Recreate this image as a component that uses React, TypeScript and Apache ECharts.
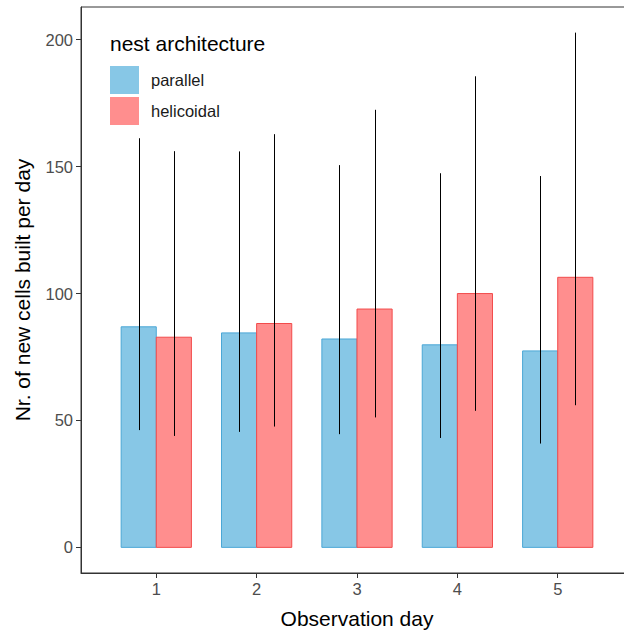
import React, { useEffect, useRef } from "react";
import * as echarts from "echarts";

const days = [1, 2, 3, 4, 5];
const parallelMean = [86.9, 84.5, 82.1, 79.8, 77.4];
const parallelLow = [46.2, 45.5, 44.6, 43.1, 40.9];
const parallelHigh = [161.2, 156.0, 150.6, 147.4, 146.3];
const helicoidalMean = [82.8, 88.2, 93.9, 100.0, 106.4];
const helicoidalLow = [43.9, 47.6, 51.2, 53.8, 56.0];
const helicoidalHigh = [156.1, 162.8, 172.4, 185.6, 202.8];
const yTicks = [0, 50, 100, 150, 200];

const FONT = "Liberation Sans, Arial, Helvetica, sans-serif";
const BAR_W = 0.35;

function makeSeries(name: string, mean: number[], low: number[], high: number[], offset: number, fill: string, stroke: string) {
  return {
    type: "custom",
    name,
    itemStyle: { color: fill },
    data: days.map((d, i) => [d, mean[i], low[i], high[i]]),
    encode: { x: 0, y: [1, 2, 3] },
    renderItem: (params: any, api: any) => {
      const d = api.value(0);
      const m = api.value(1);
      const lo = api.value(2);
      const hi = api.value(3);
      const c = d + offset;
      const p1 = api.coord([c - BAR_W / 2, m]);
      const p2 = api.coord([c + BAR_W / 2, 0]);
      const e1 = api.coord([c, lo]);
      const e2 = api.coord([c, hi]);
      const ex = Math.round(e1[0]) + 0.5;
      return {
        type: "group",
        children: [
          {
            type: "rect",
            shape: { x: p1[0], y: p1[1], width: p2[0] - p1[0], height: p2[1] - p1[1] },
            style: { fill, stroke, lineWidth: 1 },
          },
          {
            type: "line",
            shape: { x1: ex, y1: e1[1], x2: ex, y2: e2[1] },
            style: { stroke: "#000000", lineWidth: 1 },
          },
        ],
      };
    },
  };
}

export default function App() {
  const ref = useRef<HTMLDivElement>(null);
  useEffect(() => {
    if (!ref.current) return;
    const chart = echarts.init(ref.current, undefined, { renderer: "svg" });
    chart.setOption({
      animation: false,
      backgroundColor: "#ffffff",
      textStyle: { fontFamily: FONT },
      grid: {
        left: 81,
        top: 7,
        width: 552,
        height: 566,
        containLabel: false,
        outerBoundsMode: "none",
        show: true,
        borderColor: "#333333",
        borderWidth: 1,
        backgroundColor: "transparent",
      },
      xAxis: {
        type: "value",
        min: 0.25,
        max: 5.75,
        name: "Observation day",
        nameLocation: "middle",
        nameGap: 35,
        nameTextStyle: { fontSize: 21, color: "#000000", fontFamily: FONT },
        axisLine: { show: true, onZero: false, lineStyle: { color: "#333333", width: 1 } },
        axisTick: { show: true, length: 5, customValues: days, lineStyle: { color: "#333333" } },
        axisLabel: { customValues: days, fontSize: 16.5, color: "#4d4d4d", margin: 7, fontFamily: FONT },
        splitLine: { show: false },
      },
      yAxis: {
        type: "value",
        min: -10.1,
        max: 212.9,
        name: "Nr. of new cells built per day",
        nameLocation: "middle",
        nameGap: 48,
        nameTextStyle: { fontSize: 21, color: "#000000", fontFamily: FONT },
        axisLine: { show: true, onZero: false, lineStyle: { color: "#333333", width: 1 } },
        axisTick: { show: true, length: 5, customValues: yTicks, lineStyle: { color: "#333333" } },
        axisLabel: { customValues: yTicks, fontSize: 16.5, color: "#4d4d4d", margin: 8, fontFamily: FONT },
        splitLine: { show: false },
      },
      legend: {
        orient: "vertical",
        left: 110,
        top: 66,
        padding: 0,
        itemWidth: 29,
        itemHeight: 28,
        itemGap: 3,
        icon: "rect",
        itemStyle: { borderWidth: 0 },
        textStyle: { fontSize: 16.5, color: "#1a1a1a", fontFamily: FONT, padding: [0, 0, 0, 7] },
        data: ["parallel", "helicoidal"],
      },
      graphic: [
        {
          type: "text",
          left: 110,
          top: 33,
          style: { text: "nest architecture", fontSize: 21, fill: "#000000", fontFamily: FONT },
        },
      ],
      series: [
        makeSeries("parallel", parallelMean, parallelLow, parallelHigh, -BAR_W / 2, "#87C7E6", "#4BA7D6"),
        makeSeries("helicoidal", helicoidalMean, helicoidalLow, helicoidalHigh, BAR_W / 2, "#FF8E8E", "#F24B4B"),
      ],
    });
    return () => chart.dispose();
  }, []);
  return (
    <div
      ref={ref}
      style={{ position: "fixed", left: 0, top: 0, width: 624, height: 632 }}
    />
  );
}
